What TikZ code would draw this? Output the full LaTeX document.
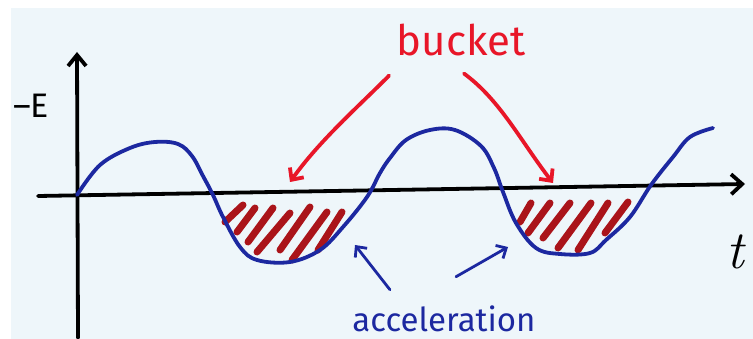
\documentclass[tikz,border=0pt]{standalone}
\usepackage{fontspec}
\newfontfamily\hand{Fira Sans}
\usetikzlibrary{arrows.meta,positioning}
\definecolor{paper}{RGB}{238,246,250}
\definecolor{penblue}{RGB}{28,40,160}
\definecolor{penred}{RGB}{232,22,40}
\definecolor{hatchred}{RGB}{170,20,26}

\begin{document}
\begin{tikzpicture}[x=1pt,y=-1pt,line cap=round,line join=round]
    \useasboundingbox (0,0) rectangle (753,339);
    \fill[paper] (11,8) rectangle (753,339);
    % axes
    \draw[line width=3.8pt, -{Straight Barb[length=11pt,width=18pt,line width=3.8pt]}] (78,338) -- (77,52);
    \draw[line width=3.8pt, -{Straight Barb[length=11pt,width=20pt,line width=3.8pt]}] (38,196) -- (745,184);
    \node[font=\hand\fontsize{34}{34}\selectfont] (elabel) at (31,106) {–E};
    \node[font=\fontsize{54}{54}\selectfont\itshape] (tlabel) at (735,252) {t};
    % hatched buckets
    \foreach \a/\b/\c/\d in {225/222/243/205, 237/232/255/208, 248/242/273/208, 257/252/290/213,
        280/250/310/207, 292/260/327/212, 318/250/342/212}
      \draw[hatchred, line width=7pt] (\a,\b) -- (\c,\d);
    \foreach \a/\b/\c/\d in {520/222/531/203, 528/233/550/203, 543/238/570/203, 558/248/591/203,
        578/250/608/203, 605/233/628/202}
      \draw[hatchred, line width=7pt] (\a,\b) -- (\c,\d);
    % wave
    \draw[penblue, line width=3.8pt] plot[smooth, tension=0.6] coordinates {
      (77,195) (100,165) (130,148) (155,142) (178,144) (192,156) (203,176) (213,195) (223,217)
      (240,247) (257,260) (290,262) (320,250) (343,227) (367,197) (380,173) (390,158)
      (406,140) (430,130) (455,130) (481,146) (494,168) (503,192) (516,223) (536,248) (560,254)
      (590,253) (606,240) (630,217) (651,185) (673,157) (690,137) (713,128)};
    % labels
    \node[penred, font=\hand\fontsize{42}{42}\selectfont] (bucket) at (461,40) {bucket};
    \node[penblue, font=\hand\fontsize{33}{33}\selectfont, anchor=base] (accel) at (444,331) {acceleration};
    \coordinate (b1) at (290,182);
    \coordinate (b2) at (553,183);
    \coordinate (a1) at (355,245);
    \coordinate (a2) at (508,247);
    \draw[penred, line width=3.8pt, -{Straight Barb[length=9pt,width=17pt,line width=3.8pt]}]
      (bucket.south west) ++(-4,16) .. controls (360,105) and (320,140) .. (b1);
    \draw[penred, line width=3.8pt, -{Straight Barb[length=9pt,width=17pt,line width=3.8pt]}]
      (bucket.south) ++(3,14) .. controls (500,100) and (520,140) .. (b2);
    \draw[penblue, line width=2.8pt, -{Straight Barb[length=8pt,width=15pt,line width=2.8pt]}]
      (accel.north west) ++(41,-12) -- (a1);
    \draw[penblue, line width=2.8pt, -{Straight Barb[length=8pt,width=15pt,line width=2.8pt]}]
      (accel.north) ++(12,-25) -- (a2);
\end{tikzpicture}
\end{document}
